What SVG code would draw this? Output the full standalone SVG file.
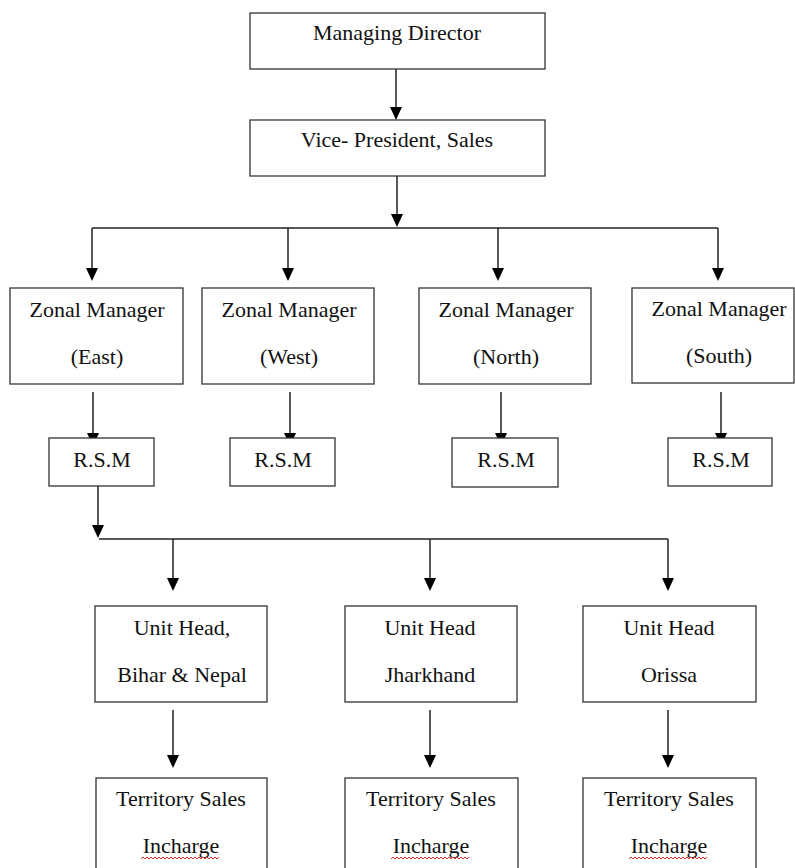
<svg xmlns="http://www.w3.org/2000/svg" width="795" height="868" viewBox="0 0 795 868">
<style>
.box{fill:#fff;stroke:#333;stroke-width:1.3}
.t{font-family:"Liberation Serif","Times New Roman",serif;font-size:22px;fill:#111;text-anchor:middle}
.c{stroke:#222;stroke-width:1.5;fill:none}
.a{stroke:#222;stroke-width:1.5;fill:none}
.sq{stroke:#e03030;stroke-width:1;fill:none}
</style>
<rect width="795" height="868" fill="#fff"/>
<g id="connectors">
<line class="c" x1="92" y1="228" x2="718" y2="228"/>
<line class="c" x1="99" y1="539" x2="668" y2="539"/>
<g id="arrows">
<path class="a" d="M396,69 L396,112"/>
<path class="a" d="M397,176 L397,220"/>
<path class="a" d="M92,228 L92,274"/>
<path class="a" d="M288,228 L288,274"/>
<path class="a" d="M498,228 L498,274"/>
<path class="a" d="M718,228 L718,274"/>
<path class="a" d="M93,392 L93,439"/>
<path class="a" d="M290,392 L290,439"/>
<path class="a" d="M501,392 L501,439"/>
<path class="a" d="M721,392 L721,439"/>
<path class="a" d="M98,486 L98,531"/>
<path class="a" d="M173,539 L173,584"/>
<path class="a" d="M430,539 L430,584"/>
<path class="a" d="M668,539 L668,584"/>
<path class="a" d="M173,710 L173,761"/>
<path class="a" d="M430,710 L430,761"/>
<path class="a" d="M668,710 L668,761"/>
</g>
<g id="arrowheads" fill="#000">
<path d="M390,107 L402,107 L396,120 Z"/>
<path d="M391,214 L403,214 L397,227 Z"/>
<path d="M86,268 L98,268 L92,281 Z"/>
<path d="M282,268 L294,268 L288,281 Z"/>
<path d="M492,268 L504,268 L498,281 Z"/>
<path d="M712,268 L724,268 L718,281 Z"/>
<path d="M87,433 L99,433 L93,446 Z"/>
<path d="M284,433 L296,433 L290,446 Z"/>
<path d="M495,433 L507,433 L501,446 Z"/>
<path d="M715,433 L727,433 L721,446 Z"/>
<path d="M92,525 L104,525 L98,538 Z"/>
<path d="M167,578 L179,578 L173,591 Z"/>
<path d="M424,578 L436,578 L430,591 Z"/>
<path d="M662,578 L674,578 L668,591 Z"/>
<path d="M167,755 L179,755 L173,768 Z"/>
<path d="M424,755 L436,755 L430,768 Z"/>
<path d="M662,755 L674,755 L668,768 Z"/>
</g>
</g>
<g id="md"><rect class="box" x="250" y="13" width="295" height="56"/><text class="t" x="397" y="40">Managing Director</text></g>
<g id="vp"><rect class="box" x="250" y="120" width="295" height="56"/><text class="t" x="397" y="147">Vice- President, Sales</text></g>
<g id="zm-east"><rect class="box" x="10" y="288" width="173" height="96"/><text class="t" x="97" y="317">Zonal Manager</text><text class="t" x="97" y="364">(East)</text></g>
<g id="zm-west"><rect class="box" x="202" y="288" width="172" height="96"/><text class="t" x="289" y="317">Zonal Manager</text><text class="t" x="289" y="364">(West)</text></g>
<g id="zm-north"><rect class="box" x="419" y="288" width="172" height="96"/><text class="t" x="506" y="317">Zonal Manager</text><text class="t" x="506" y="364">(North)</text></g>
<g id="zm-south"><rect class="box" x="632" y="288" width="162" height="95"/><text class="t" x="719" y="316">Zonal Manager</text><text class="t" x="719" y="363">(South)</text></g>
<g id="rsm-east"><rect class="box" x="49" y="438" width="105" height="48"/><text class="t" x="102" y="467">R.S.M</text></g>
<g id="rsm-west"><rect class="box" x="230" y="438" width="105" height="48"/><text class="t" x="283" y="467">R.S.M</text></g>
<g id="rsm-north"><rect class="box" x="452" y="438" width="106" height="49"/><text class="t" x="506" y="467">R.S.M</text></g>
<g id="rsm-south"><rect class="box" x="668" y="438" width="104" height="48"/><text class="t" x="721" y="467">R.S.M</text></g>
<g id="uh-bihar"><rect class="box" x="95" y="606" width="172" height="96"/><text class="t" x="182" y="635">Unit Head,</text><text class="t" x="182" y="682">Bihar &amp; Nepal</text></g>
<g id="uh-jharkhand"><rect class="box" x="345" y="606" width="172" height="96"/><text class="t" x="430" y="635">Unit Head</text><text class="t" x="430" y="682">Jharkhand</text></g>
<g id="uh-orissa"><rect class="box" x="583" y="606" width="173" height="96"/><text class="t" x="669" y="635">Unit Head</text><text class="t" x="669" y="682">Orissa</text></g>
<g id="tsi-1"><rect class="box" x="96" y="778" width="171" height="100"/><text class="t" x="181" y="806">Territory Sales</text><text class="t" x="181" y="853">Incharge</text></g>
<g id="tsi-2"><rect class="box" x="345" y="778" width="173" height="100"/><text class="t" x="431" y="806">Territory Sales</text><text class="t" x="431" y="853">Incharge</text></g>
<g id="tsi-3"><rect class="box" x="583" y="778" width="173" height="100"/><text class="t" x="669" y="806">Territory Sales</text><text class="t" x="669" y="853">Incharge</text></g>
<g id="squiggles">
<path class="sq" d="M141,859 l2,-2 l2,2 l2,-2 l2,2 l2,-2 l2,2 l2,-2 l2,2 l2,-2 l2,2 l2,-2 l2,2 l2,-2 l2,2 l2,-2 l2,2 l2,-2 l2,2 l2,-2 l2,2 l2,-2 l2,2 l2,-2 l2,2 l2,-2 l2,2 l2,-2 l2,2 l2,-2 l2,2 l2,-2 l2,2 l2,-2 l2,2 l2,-2 l2,2 l2,-2 l2,2 l2,-2"/>
<path class="sq" d="M391,859 l2,-2 l2,2 l2,-2 l2,2 l2,-2 l2,2 l2,-2 l2,2 l2,-2 l2,2 l2,-2 l2,2 l2,-2 l2,2 l2,-2 l2,2 l2,-2 l2,2 l2,-2 l2,2 l2,-2 l2,2 l2,-2 l2,2 l2,-2 l2,2 l2,-2 l2,2 l2,-2 l2,2 l2,-2 l2,2 l2,-2 l2,2 l2,-2 l2,2 l2,-2 l2,2 l2,-2"/>
<path class="sq" d="M629,859 l2,-2 l2,2 l2,-2 l2,2 l2,-2 l2,2 l2,-2 l2,2 l2,-2 l2,2 l2,-2 l2,2 l2,-2 l2,2 l2,-2 l2,2 l2,-2 l2,2 l2,-2 l2,2 l2,-2 l2,2 l2,-2 l2,2 l2,-2 l2,2 l2,-2 l2,2 l2,-2 l2,2 l2,-2 l2,2 l2,-2 l2,2 l2,-2 l2,2 l2,-2 l2,2 l2,-2"/>
</g>
</svg>
